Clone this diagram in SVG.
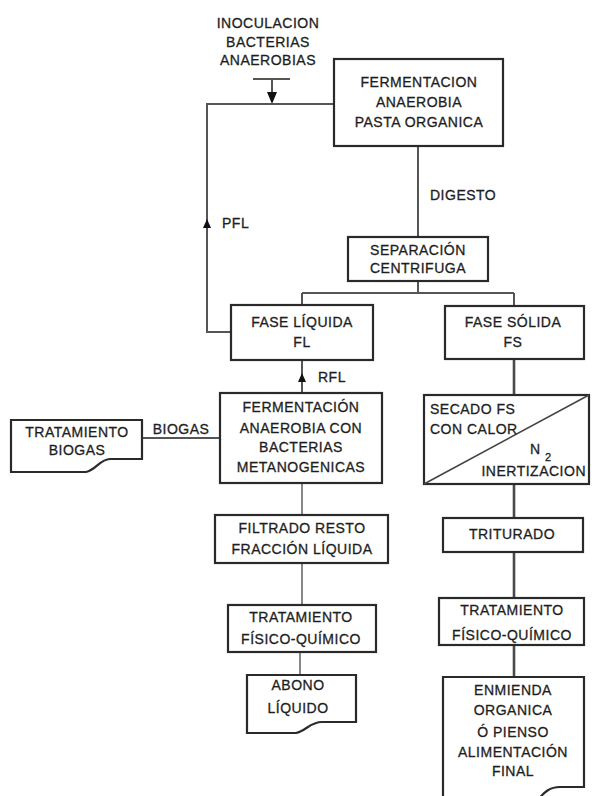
<svg xmlns="http://www.w3.org/2000/svg" width="595" height="796" viewBox="0 0 595 796">
<style>
  text { font-family: "Liberation Sans", Arial, sans-serif; font-size: 14px; letter-spacing: 0.5px; fill: #1e1e1e; stroke: #1e1e1e; stroke-width: 0.3px; }
  .c { text-anchor: middle; }
  .box { fill: #fff; stroke: #2a2a2a; stroke-width: 2.2; }
  .ln { fill: none; stroke: #555; stroke-width: 2; }
  .lnr { fill: none; stroke: #4a4a4a; stroke-width: 2.6; }
  .lnl { fill: none; stroke: #888; stroke-width: 2; }
  .ah { fill: #111; }
</style>
<rect width="595" height="796" fill="#fff"/>

<g id="connectors">
  <line class="ln" x1="253" y1="79" x2="290" y2="79"/>
  <line class="ln" x1="272" y1="79" x2="272" y2="94"/>
  <polygon class="ah" points="267,92 277,92 272,104"/>
  <path class="ln" d="M334,104 H207 V332 H231"/>
  <polygon class="ah" points="207,219 203,228 211,228"/>
  <line class="ln" x1="418" y1="146" x2="418" y2="237"/>
  <path class="ln" d="M418,281 V293 M302,293 H514 M302,293 V305 M514,293 V306"/>
  <line class="ln" x1="302" y1="360" x2="302" y2="393"/>
  <polygon class="ah" points="302,373 298,382 306,382"/>
  <line class="ln" x1="142" y1="438" x2="220" y2="438"/>
  <line class="lnl" x1="302" y1="483" x2="302" y2="515"/>
  <line class="lnl" x1="302" y1="563" x2="302" y2="605"/>
  <line class="lnl" x1="300" y1="652" x2="300" y2="675"/>
  <line class="lnr" x1="514" y1="359" x2="514" y2="395"/>
  <line class="lnr" x1="514" y1="484" x2="514" y2="518"/>
  <line class="lnr" x1="514" y1="552" x2="514" y2="598"/>
  <line class="lnr" x1="514" y1="645" x2="514" y2="677"/>
</g>

<g id="inoculacion">
  <text class="c" x="268" y="28">INOCULACION</text>
  <text class="c" x="268" y="47">BACTERIAS</text>
  <text class="c" x="268" y="65">ANAEROBIAS</text>
</g>

<g id="fermentacion">
  <rect class="box" x="334" y="59" width="169" height="87"/>
  <text class="c" x="419" y="87">FERMENTACION</text>
  <text class="c" x="419" y="107">ANAEROBIA</text>
  <text class="c" x="419" y="127">PASTA ORGANICA</text>
</g>

<g id="labels">
  <text x="430" y="200">DIGESTO</text>
  <text x="222" y="228">PFL</text>
  <text x="318" y="382">RFL</text>
  <text class="c" x="181" y="434">BIOGAS</text>
</g>

<g id="separacion">
  <rect class="box" x="348" y="237" width="140" height="44"/>
  <text class="c" x="418" y="255">SEPARACIÓN</text>
  <text class="c" x="418" y="273">CENTRIFUGA</text>
</g>

<g id="fase-liquida">
  <rect class="box" x="231" y="305" width="142" height="55"/>
  <text class="c" x="302" y="327">FASE LÍQUIDA</text>
  <text class="c" x="302" y="347">FL</text>
</g>

<g id="fase-solida">
  <rect class="box" x="445" y="306" width="139" height="53"/>
  <text class="c" x="513" y="327">FASE SÓLIDA</text>
  <text class="c" x="513" y="347">FS</text>
</g>

<g id="fermentacion-metanogenica">
  <rect class="box" x="220" y="393" width="162" height="90"/>
  <text class="c" x="301" y="412">FERMENTACIÓN</text>
  <text class="c" x="301" y="433">ANAEROBIA CON</text>
  <text class="c" x="301" y="452">BACTERIAS</text>
  <text class="c" x="301" y="472">METANOGENICAS</text>
</g>

<g id="tratamiento-biogas">
  <path class="box" d="M11,420 H142 V459 H110 C100,459 96,470 86,472 H11 Z"/>
  <text class="c" x="77" y="437">TRATAMIENTO</text>
  <text class="c" x="77" y="455">BIOGAS</text>
</g>

<g id="secado">
  <rect class="box" x="424" y="395" width="165" height="89"/>
  <line x1="424" y1="484" x2="589" y2="395" stroke="#444" stroke-width="1.6"/>
  <text x="430" y="414">SECADO FS</text>
  <text x="430" y="434">CON CALOR</text>
  <text x="530" y="454">N</text>
  <text x="545" y="461" style="font-size:11px">2</text>
  <text x="586" y="476" text-anchor="end">INERTIZACION</text>
</g>

<g id="filtrado">
  <rect class="box" x="215" y="515" width="173" height="48"/>
  <text class="c" x="302" y="533">FILTRADO RESTO</text>
  <text class="c" x="302" y="554">FRACCIÓN LÍQUIDA</text>
</g>

<g id="triturado">
  <rect class="box" x="443" y="518" width="140" height="34"/>
  <text class="c" x="512" y="539">TRITURADO</text>
</g>

<g id="tratamiento-liquido">
  <rect class="box" x="228" y="605" width="148" height="47"/>
  <text class="c" x="301" y="622">TRATAMIENTO</text>
  <text class="c" x="301" y="644">FÍSICO-QUÍMICO</text>
</g>

<g id="tratamiento-solido">
  <rect class="box" x="439" y="598" width="145" height="47"/>
  <text class="c" x="512" y="615">TRATAMIENTO</text>
  <text class="c" x="512" y="640">FÍSICO-QUÍMICO</text>
</g>

<g id="abono">
  <path class="box" d="M247,675 H356 V722 H322 C310,722 306,731 296,733 H247 Z"/>
  <text class="c" x="298" y="690">ABONO</text>
  <text class="c" x="298" y="713">LÍQUIDO</text>
</g>

<g id="enmienda">
  <path class="box" d="M443,800 V677 H584 V787 H560 C550,787 544,792 538,800"/>
  <text class="c" x="513" y="695">ENMIENDA</text>
  <text class="c" x="513" y="715">ORGANICA</text>
  <text class="c" x="513" y="737">Ó PIENSO</text>
  <text class="c" x="513" y="757">ALIMENTACIÓN</text>
  <text class="c" x="513" y="776">FINAL</text>
</g>
</svg>
